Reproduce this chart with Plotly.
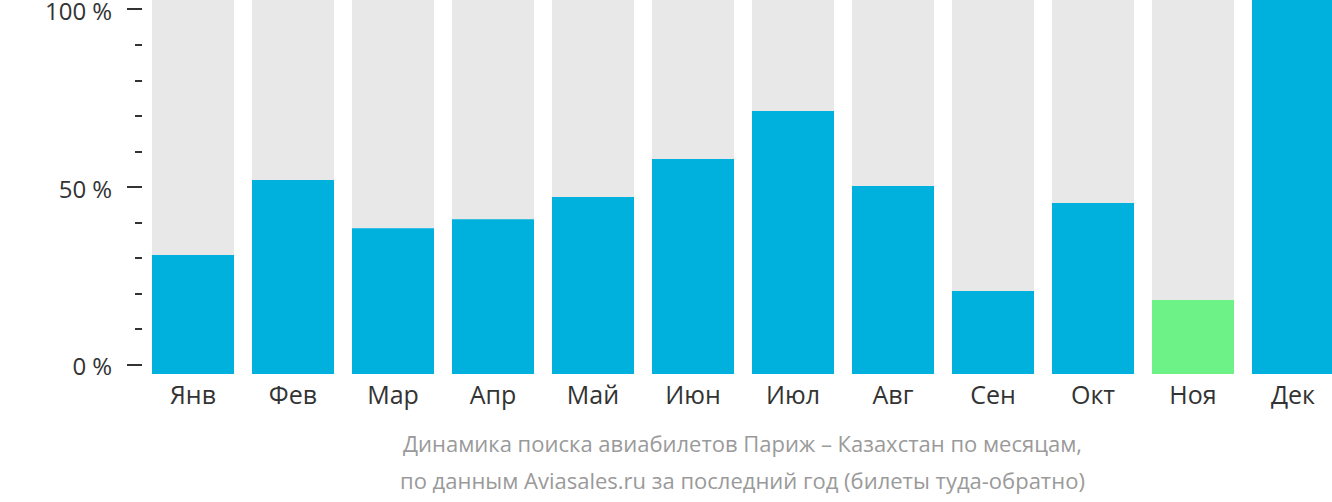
import plotly.graph_objects as go

months = ["Янв", "Фев", "Мар", "Апр", "Май", "Июн", "Июл", "Авг", "Сен", "Окт", "Ноя", "Дек"]
values = [31.8, 51.9, 39.0, 41.4, 47.3, 57.5, 70.3, 50.3, 22.2, 45.7, 19.8, 100]
background = [100] * 12
highlight_min = "Ноя"

BLUE = "#00b1dd"
GREEN = "#6df287"
GREY = "#e8e8e8"
colors = [GREEN if m == highlight_min else BLUE for m in months]

fig = go.Figure()
fig.add_trace(go.Bar(x=months, y=background, marker=dict(color=GREY, line=dict(width=0)),
                     hoverinfo="skip", showlegend=False))
fig.add_trace(go.Bar(x=months, y=values, marker=dict(color=colors, line=dict(width=0)),
                     showlegend=False))
# invisible trace to create tick axis
fig.add_trace(go.Scatter(x=[months[0]], y=[0], yaxis="y2", mode="markers",
                         marker=dict(opacity=0), hoverinfo="skip", showlegend=False))

FONT = "Open Sans"
fig.update_layout(
    width=1332, height=502,
    margin=dict(l=143, r=0, t=0, b=128, pad=0, autoexpand=False),
    paper_bgcolor="white", plot_bgcolor="white",
    barmode="overlay", bargap=0.18,
    font=dict(family=FONT, color="#333333", size=24),
    xaxis=dict(range=[-0.5, 11.39], showgrid=False, zeroline=False, showline=False,
               automargin=False,
               ticks="", tickfont=dict(size=25, color="#333333"), ticklabelstandoff=4),
    yaxis=dict(range=[0, 100], showgrid=False, zeroline=False, showline=False,
               automargin=False, showticklabels=False, ticks=""),
    yaxis2=dict(overlaying="y", side="left", anchor="x", range=[-2.532, 102.67],
                showgrid=False, zeroline=False, showline=False, automargin=False,
                tickmode="array", tickvals=[0, 50, 100], ticktext=["0 %", "50 %", "100 %"],
                ticks="outside", ticklen=15, tickwidth=2, tickcolor="#333333",
                tickfont=dict(size=24, color="#333333"), ticklabelstandoff=10,
                ticklabelshift=2, ticklabeloverflow="allow",
                minor=dict(tickmode="array", tickvals=[10, 20, 30, 40, 60, 70, 80, 90],
                           ticks="outside", ticklen=7, tickwidth=2, tickcolor="#333333")),
    annotations=[
        dict(text="Динамика поиска авиабилетов Париж – Казахстан по месяцам,",
             xref="paper", yref="paper", x=0.504, y=-0.1845, xanchor="center", yanchor="middle",
             showarrow=False, font=dict(size=22, color="#9a9a9a", family=FONT)),
        dict(text="по данным Aviasales.ru за последний год (билеты туда-обратно)",
             xref="paper", yref="paper", x=0.504, y=-0.283, xanchor="center", yanchor="middle",
             showarrow=False, font=dict(size=22, color="#9a9a9a", family=FONT)),
    ],
)

fig.write_html("out.html", config={"displayModeBar": False},
               post_script="document.body.style.margin='0';")
